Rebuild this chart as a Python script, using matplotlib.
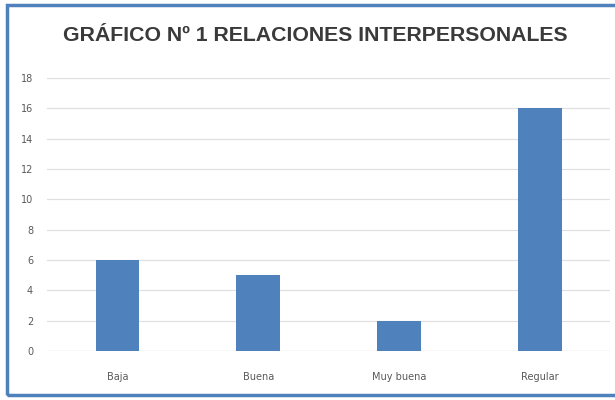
import matplotlib
matplotlib.use('Agg')
from matplotlib import pyplot as plt
from matplotlib.patches import Rectangle
import numpy as np

categorias = ['Baja', 'Buena', 'Muy buena', 'Regular']
valores = [6, 5, 2, 16]
yticks = [0, 2, 4, 6, 8, 10, 12, 14, 16, 18]

fig = plt.figure(figsize=(6.15, 4.0), dpi=100)
ax = fig.add_axes([0.0764, 0.1225, 0.9156, 0.6825])

x = np.arange(len(categorias))
ax.bar(x, valores, width=0.31, color='#4f81bd', zorder=3)

ax.set_xlim(-0.5, len(categorias) - 0.5)
ax.set_ylim(0, 18)
ax.set_yticks(yticks)
ax.set_xticks(x)
ax.set_xticklabels(categorias)
ax.grid(axis='y', color='#e0e0e0', linewidth=0.9, zorder=0)
for s in ax.spines.values():
    s.set_visible(False)
ax.axhline(0, color='#e0e0e0', linewidth=0.9, zorder=1)
ax.tick_params(length=0, labelsize=7, labelcolor='#595959')
ax.tick_params(axis='x', pad=15)
ax.tick_params(axis='y', pad=10)

fig.text(0.512, 0.912, 'GRÁFICO Nº 1 RELACIONES INTERPERSONALES',
         ha='center', va='center', fontsize=15.3, fontweight='bold',
         color='#3a3a3a', family='Liberation Sans')

fig.patches.append(Rectangle((7 / 615, 5 / 400), 1.2, 1 - 10 / 400,
                             transform=fig.transFigure, fill=False,
                             edgecolor='#4f81bd', linewidth=2.5))

fig.savefig('out.png', dpi=100)
